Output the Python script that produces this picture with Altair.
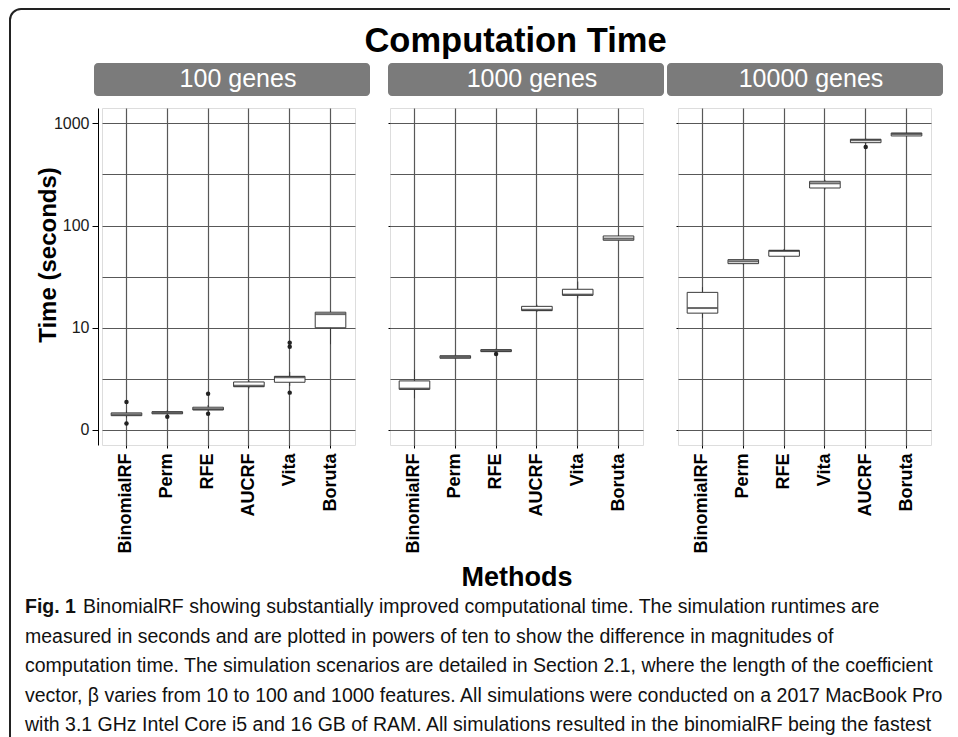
import math
import altair as alt
import pandas as pd

FONT = "Liberation Sans"
CAP_FONT = "Liberation Sans"
GRID = "#585858"
STRIP = "#7b7b7b"

title_text = "Computation Time"
panel_titles = ["100 genes", "1000 genes", "10000 genes"]
y_title = "Time (seconds)"
x_title = "Methods"
y_major_values = [1, 10, 100, 1000]
y_major_labels = ["0", "10", "100", "1000"]
y_minor_values = [3.1623, 31.623, 316.23]
y_domain = [0.713, 1413]

# panel 1: 100 genes
p1_methods = ["BinomialRF", "Perm", "RFE", "AUCRF", "Vita", "Boruta"]
p1_lo = [1.32, 1.40, 1.52, 2.55, 2.70, 6.90]
p1_q1 = [1.38, 1.44, 1.57, 2.65, 2.93, 10.0]
p1_med = [1.42, 1.48, 1.60, 2.71, 3.28, 13.6]
p1_q3 = [1.47, 1.51, 1.67, 2.95, 3.35, 14.2]
p1_hi = [1.55, 1.56, 1.75, 3.05, 3.70, 14.6]
p1_out_methods = ["BinomialRF", "BinomialRF", "Perm", "RFE", "RFE", "Vita", "Vita", "Vita"]
p1_out_values = [1.88, 1.16, 1.35, 2.26, 1.44, 7.15, 6.53, 2.32]

# panel 2: 1000 genes
p2_methods = ["BinomialRF", "Perm", "RFE", "AUCRF", "Vita", "Boruta"]
p2_lo = [2.04, 4.95, 5.75, 14.3, 19.4, 70.5]
p2_q1 = [2.50, 5.03, 5.84, 14.7, 20.8, 71.8]
p2_med = [2.54, 5.18, 5.97, 15.0, 21.1, 74.5]
p2_q3 = [3.02, 5.33, 6.11, 16.2, 23.8, 79.1]
p2_hi = [3.86, 5.45, 6.25, 16.8, 28.3, 81.0]
p2_out_methods = ["RFE"]
p2_out_values = [5.54]

# panel 3: 10000 genes
p3_methods = ["BinomialRF", "Perm", "RFE", "Vita", "AUCRF", "Boruta"]
p3_lo = [12.5, 41.5, 49.0, 225, 620, 745]
p3_q1 = [13.9, 42.4, 50.1, 233, 647, 753]
p3_med = [15.6, 44.7, 56.4, 259, 684, 787]
p3_q3 = [22.2, 46.4, 57.3, 271, 699, 805]
p3_hi = [25.0, 47.5, 59.0, 280, 710, 815]
p3_out_methods = ["AUCRF"]
p3_out_values = [588]

caption_bold = "Fig. 1"
caption_first = "BinomialRF showing substantially improved computational time. The simulation runtimes are"
caption_rest = [
    "measured in seconds and are plotted in powers of ten to show the difference in magnitudes of",
    "computation time. The simulation scenarios are detailed in Section 2.1, where the length of the coefficient",
    "vector, \u03b2 varies from 10 to 100 and 1000 features. All simulations were conducted on a 2017 MacBook Pro",
    "with 3.1 GHz Intel Core i5 and 16 GB of RAM. All simulations resulted in the binomialRF being the fastest",
]

W, H = 253, 337

major_test = "indexof([" + ",".join(str(v) for v in y_major_values) + "], datum.value) >= 0"
label_expr = "".join(f"datum.value == {v} ? '{l}' : " for v, l in zip(y_major_values, y_major_labels)) + "''"

yscale = alt.Scale(type="log", domain=y_domain, nice=False, zero=False)


def one(t):
    return pd.DataFrame({"t": [t]})


def panel(methods, lo, q1, med, q3, hi, om, ov, header, idx, hx0, hx1):
    first = idx == 0
    middle = idx == 1
    df = pd.DataFrame(dict(method=methods, lo=lo, q1=q1, med=med, q3=q3, hi=hi))
    dfo = pd.DataFrame(dict(method=om, v=ov))

    xaxis = alt.Axis(
        title=x_title if middle else None,
        labelAngle=-90, labelFont=FONT, labelFontSize=18, labelFontWeight="bold",
        labelColor="black", labelPadding=5, tickSize=3, tickColor="black",
        grid=True, gridColor=GRID, gridWidth=1.2, domain=False, bandPosition=0.5,
        titleFont=FONT, titleFontSize=27, titleFontWeight="bold", titleColor="black",
        titlePadding=11,
    )
    xs = alt.Scale(domain=methods, paddingInner=0.25, paddingOuter=0.225)
    x = alt.X("method:N", sort=methods, scale=xs, axis=xaxis)
    xn = alt.X("method:N", sort=methods, scale=xs)

    if first:
        yaxis = alt.Axis(
            title=None, values=y_major_values + y_minor_values, grid=True,
            gridColor=GRID, gridWidth=1.2, labelExpr=label_expr, labelFont=FONT,
            labelFontSize=16, labelColor="#1a1a1a", labelPadding=3, tickSize=6,
            tickColor="black",
            tickOpacity={"condition": {"test": major_test, "value": 1}, "value": 0},
            domain=True, domainColor="black", domainWidth=1, offset=4,
        )
    else:
        yaxis = alt.Axis(
            title=None, values=y_major_values + y_minor_values, grid=True,
            gridColor=GRID, gridWidth=1.2, labels=False, tickSize=2,
            tickColor="black",
            tickOpacity={"condition": {"test": major_test, "value": 1}, "value": 0},
            domain=False,
        )

    base = alt.Chart(df)
    whisk_lo = base.mark_rule(color="#3a3a3a", strokeWidth=1).encode(
        x=x, y=alt.Y("lo:Q", scale=yscale, axis=yaxis), y2="q1:Q")
    whisk_hi = base.mark_rule(color="#3a3a3a", strokeWidth=1).encode(
        x=xn, y=alt.Y("q3:Q", scale=yscale), y2="hi:Q")
    box = base.mark_bar(fill="white", stroke="#3a3a3a", strokeWidth=1).encode(
        x=xn, y=alt.Y("q1:Q", scale=yscale), y2="q3:Q")
    medl = base.mark_tick(color="#2a2a2a", thickness=2, size=30).encode(
        x=xn, y=alt.Y("med:Q", scale=yscale))
    outl = alt.Chart(dfo).mark_circle(size=20, color="#222222", opacity=1).encode(
        x=xn, y=alt.Y("v:Q", scale=yscale))

    hrect = alt.Chart(one(header)).mark_rect(fill=STRIP, cornerRadius=4).encode(
        x=alt.value(hx0), x2=alt.value(hx1), y=alt.value(-45), y2=alt.value(-12))
    htext = alt.Chart(one(header)).mark_text(
        font=FONT, fontSize=25, color="white", align="center", baseline="alphabetic"
    ).encode(text="t:N", x=alt.value((hx0 + hx1) / 2 + 6), y=alt.value(-21))

    layers = [whisk_lo, whisk_hi, box, medl, outl, hrect, htext]

    if first:
        ttl = alt.Chart(one(title_text)).mark_text(
            font=FONT, fontSize=34.5, fontWeight="bold", color="black",
            align="center", baseline="alphabetic"
        ).encode(text="t:N", x=alt.value(413.5), y=alt.value(-56))
        ytl = alt.Chart(one(y_title)).mark_text(
            font=FONT, fontSize=24, fontWeight="bold", color="black",
            align="center", baseline="alphabetic", angle=270
        ).encode(text="t:N", x=alt.value(-46), y=alt.value(147))
        top = alt.Chart(one("b")).mark_rule(color="#222222", strokeWidth=2).encode(
            x=alt.value(-81), x2=alt.value(870), y=alt.value(-99))
        left = alt.Chart(one("b")).mark_rule(color="#222222", strokeWidth=2).encode(
            x=alt.value(-92), y=alt.value(-88), y2=alt.value(650))
        corner = alt.Chart(one("b")).mark_arc(
            radius=12, radius2=10, theta=3 * math.pi / 2, theta2=2 * math.pi,
            color="#222222"
        ).encode(x=alt.value(-81), y=alt.value(-88))
        cb = alt.Chart(one(caption_bold)).mark_text(
            font=CAP_FONT, fontSize=19.5, fontWeight="bold", color="#111111",
            align="left", baseline="alphabetic"
        ).encode(text="t:N", x=alt.value(-77), y=alt.value(505))
        c1 = alt.Chart(one(caption_first)).mark_text(
            font=CAP_FONT, fontSize=19.5, color="#111111", align="left", baseline="alphabetic"
        ).encode(text="t:N", x=alt.value(-19), y=alt.value(505))
        cr = alt.Chart(one("\n".join(caption_rest))).mark_text(
            font=CAP_FONT, fontSize=19.5, color="#111111", align="left",
            baseline="alphabetic", lineBreak="\n", lineHeight=29.5
        ).encode(text="t:N", x=alt.value(-77), y=alt.value(534.5))
        layers += [ttl, ytl, top, left, corner, cb, c1, cr]

    return alt.layer(*layers).properties(width=W, height=H)


p1 = panel(p1_methods, p1_lo, p1_q1, p1_med, p1_q3, p1_hi, p1_out_methods, p1_out_values,
           panel_titles[0], 0, -8, 268)
p2 = panel(p2_methods, p2_lo, p2_q1, p2_med, p2_q3, p2_hi, p2_out_methods, p2_out_values,
           panel_titles[1], 1, -2, 274)
p3 = panel(p3_methods, p3_lo, p3_q1, p3_med, p3_q3, p3_hi, p3_out_methods, p3_out_values,
           panel_titles[2], 2, -11, 265)

chart = alt.hconcat(p1, p2, p3, spacing=35, bounds="flush").properties(
    autosize=alt.AutoSizeParams(type="none"),
    padding={"left": 94, "top": 100, "right": 848, "bottom": 615},
).configure_view(stroke="black", strokeWidth=1).configure(background="white")

chart.save("out.html", embed_options={"renderer": "svg", "actions": False})
